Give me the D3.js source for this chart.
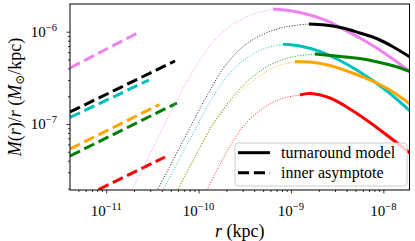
<!DOCTYPE html>
<html><head><meta charset="utf-8">
<script src="https://cdn.jsdelivr.net/npm/d3@7"></script>
<style>
body{margin:0;background:#fff;}
text{font-family:"Liberation Serif","DejaVu Serif",serif;fill:#000;}
</style></head><body>
<svg id="c" width="415" height="241"></svg>
<script>
// ---------- data ----------
const seriesColors = ["violet", "black", "#00bfbf", "green", "orange", "red"];

// inner asymptote endpoints (r, M/r)
const asymR = [
  [4.057e-12, 2.182e-11],
  [4.057e-12, 5.554e-11],
  [4.057e-12, 2.905e-11],
  [4.057e-12, 5.837e-11],
  [4.057e-12, 3.774e-11],
  [4.057e-12, 4.329e-11]
];
const asymV = [
  [4.043e-7, 9.681e-7],
  [1.349e-7, 4.815e-7],
  [1.176e-7, 2.997e-7],
  [4.500e-8, 1.689e-7],
  [5.360e-8, 1.627e-7],
  [1.376e-8, 4.389e-8]
];

// full model, dotted part (r, M/r)
const dottedR = [
  [1.902e-11, 3.375e-11, 5.837e-11, 9.85e-11, 1.505e-10, 2.299e-10, 3.600e-10, 6.386e-10],
  [3.546e-11, 6.780e-11, 1.264e-10, 1.931e-10, 3.178e-10, 5.232e-10, 8.611e-10, 1.566e-9],
  [4.088e-11, 7.68e-11, 1.432e-10, 2.187e-10, 3.341e-10, 4.977e-10, 8.193e-10],
  [5.837e-11, 9.374e-11, 1.505e-10, 2.670e-10, 4.077e-10, 6.229e-10, 1.025e-9, 1.818e-9],
  [5.837e-11, 9.374e-11, 1.505e-10, 2.670e-10, 4.077e-10, 6.711e-10, 1.105e-9],
  [1.233e-10, 1.505e-10, 2.299e-10, 3.425e-10, 5.232e-10, 7.992e-10, 1.252e-9]
];
const dottedV = [
  [1.927e-8, 6.071e-8, 1.820e-7, 4.580e-7, 8.130e-7, 1.182e-6, 1.498e-6, 1.762e-6],
  [1.880e-8, 6.544e-8, 2.114e-7, 4.250e-7, 7.176e-7, 9.561e-7, 1.124e-6, 1.212e-6],
  [1.880e-8, 6.224e-8, 1.961e-7, 3.569e-7, 5.189e-7, 6.495e-7, 7.303e-7],
  [1.880e-8, 4.615e-8, 1.078e-7, 2.278e-7, 3.395e-7, 4.468e-7, 5.319e-7, 5.733e-7],
  [1.880e-8, 4.615e-8, 1.051e-7, 2.114e-7, 3.073e-7, 4.145e-7, 4.732e-7],
  [1.927e-8, 2.873e-8, 6.224e-8, 1.078e-7, 1.528e-7, 1.889e-7, 2.062e-7]
];

// turnaround model, solid part (r, M/r)
const solidR = [
  [6.386e-10, 1.025e-9, 1.606e-9, 2.434e-9, 3.654e-9, 5.582e-9, 8.464e-9, 1.270e-8, 1.941e-8],
  [1.566e-9, 2.334e-9, 3.654e-9, 5.582e-9, 8.464e-9, 1.270e-8, 1.941e-8],
  [8.193e-10, 1.252e-9, 2.060e-9, 3.146e-9, 5.582e-9, 1.094e-8, 1.941e-8],
  [1.818e-9, 3.654e-9, 5.582e-9, 8.464e-9, 1.393e-8, 1.941e-8],
  [1.105e-9, 1.606e-9, 2.643e-9, 4.350e-9, 7.161e-9, 1.179e-8, 1.941e-8],
  [1.252e-9, 1.606e-9, 2.643e-9, 4.350e-9, 7.161e-9, 1.179e-8, 1.941e-8]
];
const solidV = [
  [1.762e-6, 1.676e-6, 1.517e-6, 1.316e-6, 1.070e-6, 8.546e-7, 6.659e-7, 5.061e-7, 3.687e-7],
  [1.212e-6, 1.182e-6, 1.097e-6, 9.681e-7, 8.439e-7, 6.878e-7, 5.319e-7],
  [7.303e-7, 7.000e-7, 6.103e-7, 5.061e-7, 3.659e-7, 2.278e-7, 1.383e-7],
  [5.733e-7, 5.359e-7, 5.124e-7, 4.732e-7, 4.177e-7, 3.687e-7],
  [4.732e-7, 4.696e-7, 4.303e-7, 3.659e-7, 2.997e-7, 2.335e-7, 1.647e-7],
  [2.062e-7, 2.140e-7, 1.913e-7, 1.454e-7, 1.038e-7, 7.142e-8, 4.851e-8]
];

const xMajor = [1e-11, 1e-10, 1e-9, 1e-8];
const xMajorExp = ["−11", "−10", "−9", "−8"];
const yMajor = [1e-7, 1e-6];
const yMajorExp = ["−7", "−6"];
const legendLabels = ["turnaround model", "inner asymptote"];

// ---------- layout ----------
const L = 70, R = 409.5, T = 4, B = 190;
const svg = d3.select("#c");
const x = d3.scaleLog().domain([4.057e-12, 1.92e-8]).range([L, R]);
const y = d3.scaleLog().domain([1.927e-8, 1.996e-6]).range([B, T]);

svg.append("defs").append("clipPath").attr("id", "clip")
  .append("rect").attr("x", L).attr("y", T).attr("width", R - L).attr("height", B - T);

const g = svg.append("g").attr("clip-path", "url(#clip)");
const line = d3.line().x(d => x(d[0])).y(d => y(d[1])).curve(d3.curveCatmullRom.alpha(0.5));
const zip = (a, b) => a.map((v, i) => [v, b[i]]);

// dashed inner asymptotes
seriesColors.forEach((c, i) => {
  g.append("path").datum(zip(asymR[i], asymV[i])).attr("d", d3.line().x(d => x(d[0])).y(d => y(d[1])))
    .attr("fill", "none").attr("stroke", c).attr("stroke-width", 3).attr("stroke-dasharray", "11.1,4.8");
});
// dotted full model
seriesColors.forEach((c, i) => {
  g.append("path").datum(zip(dottedR[i], dottedV[i])).attr("d", line)
    .attr("fill", "none").attr("stroke", c).attr("stroke-width", 1).attr("stroke-opacity", 0.85)
    .attr("stroke-dasharray", "1,1.65");
});
// solid turnaround model
seriesColors.forEach((c, i) => {
  g.append("path").datum(zip(solidR[i], solidV[i])).attr("d", line)
    .attr("fill", "none").attr("stroke", c).attr("stroke-width", 3);
});

// ---------- axes ----------
function minors(dom) {
  const out = [];
  const lo = Math.floor(Math.log10(dom[0])), hi = Math.ceil(Math.log10(dom[1]));
  for (let e = lo; e < hi; e++) for (let k = 2; k <= 9; k++) {
    const v = k * Math.pow(10, e);
    if (v >= dom[0] && v <= dom[1]) out.push(v);
  }
  return out;
}
const ax = svg.append("g").attr("transform", `translate(0,${B})`);
ax.call(d3.axisBottom(x).tickValues(xMajor).tickSize(3.5).tickSizeOuter(0).tickFormat(""));
ax.append("g").call(d3.axisBottom(x).tickValues(minors(x.domain())).tickSize(2).tickSizeOuter(0).tickFormat(""));
const ay = svg.append("g").attr("transform", `translate(${L},0)`);
ay.call(d3.axisLeft(y).tickValues(yMajor).tickSize(3.5).tickSizeOuter(0).tickFormat(""));
ay.append("g").call(d3.axisLeft(y).tickValues(minors(y.domain())).tickSize(2).tickSizeOuter(0).tickFormat(""));
svg.selectAll(".domain").remove();
svg.selectAll(".tick line").attr("stroke", "#000").attr("stroke-width", 0.8);

svg.append("rect").attr("x", L).attr("y", T).attr("width", R - L).attr("height", B - T)
  .attr("fill", "none").attr("stroke", "#000").attr("stroke-width", 1);

// tick labels
xMajor.forEach((v, i) => {
  const t = svg.append("text").attr("x", x(v)).attr("y", 216).attr("text-anchor", "middle").attr("font-size", 15);
  t.append("tspan").text("10");
  t.append("tspan").attr("dy", -6).attr("font-size", 10.5).text(xMajorExp[i]);
});
yMajor.forEach((v, i) => {
  const t = svg.append("text").attr("x", 57).attr("y", y(v) + 5).attr("text-anchor", "end").attr("font-size", 15);
  t.append("tspan").text("10");
  t.append("tspan").attr("dy", -6).attr("font-size", 10.5).text(yMajorExp[i]);
});

// axis labels
const xl = svg.append("text").attr("x", (L + R) / 2).attr("y", 237).attr("text-anchor", "middle").attr("font-size", 18);
xl.append("tspan").attr("font-style", "italic").text("r");
xl.append("tspan").text(" (kpc)");

const yl = svg.append("text").attr("transform", `translate(21,${(T + B) / 2}) rotate(-90)`)
  .attr("text-anchor", "middle").attr("font-size", 18);
yl.append("tspan").attr("font-style", "italic").text("M");
yl.append("tspan").text("(");
yl.append("tspan").attr("font-style", "italic").text("r");
yl.append("tspan").text(")/");
yl.append("tspan").attr("font-style", "italic").text("r");
yl.append("tspan").text(" (");
yl.append("tspan").attr("font-style", "italic").text("M");
yl.append("tspan").attr("dy", 3).attr("font-size", 12).text("⊙");
yl.append("tspan").attr("dy", -3).text("/kpc)");

// ---------- legend ----------
const lg = svg.append("g");
lg.append("rect").attr("x", 235).attr("y", 143).attr("width", 172).attr("height", 43).attr("rx", 3)
  .attr("fill", "#fff").attr("fill-opacity", 0.8).attr("stroke", "#cccccc").attr("stroke-width", 1);
const lys = [152.7, 172.7];
lg.append("line").attr("x1", 238).attr("x2", 270).attr("y1", lys[0]).attr("y2", lys[0])
  .attr("stroke", "#000").attr("stroke-width", 3);
lg.append("line").attr("x1", 238).attr("x2", 270).attr("y1", lys[1]).attr("y2", lys[1])
  .attr("stroke", "#000").attr("stroke-width", 3).attr("stroke-dasharray", "11.1,4.8");
legendLabels.forEach((s, i) => {
  lg.append("text").attr("x", 281).attr("y", lys[i] + 5.5).attr("font-size", 16).text(s);
});
</script>
</body></html>
